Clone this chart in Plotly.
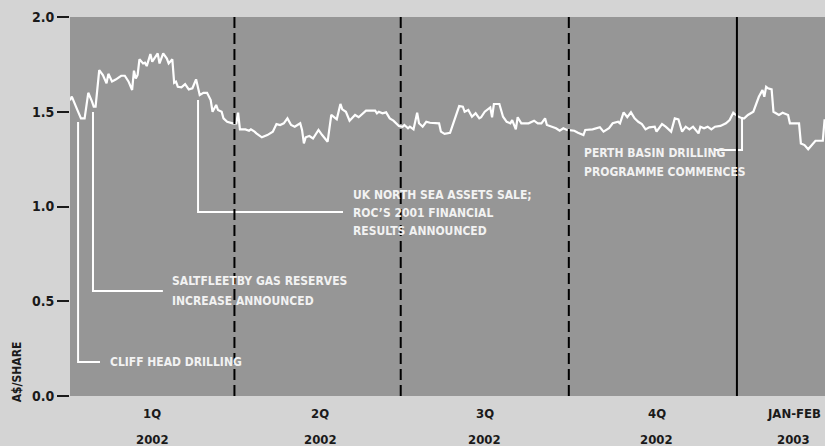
import plotly.graph_objects as go

# share price, A$ per share
dates = [
    "2002-01-01", "2002-01-02", "2002-01-05", "2002-01-07", "2002-01-09", "2002-01-11", "2002-01-13", "2002-01-14", "2002-01-15", "2002-01-17",
    "2002-01-19", "2002-01-21", "2002-01-22", "2002-01-24", "2002-01-26", "2002-01-29", "2002-01-31", "2002-02-02", "2002-02-04", "2002-02-05",
    "2002-02-06", "2002-02-07", "2002-02-08", "2002-02-10", "2002-02-11", "2002-02-12", "2002-02-14", "2002-02-15", "2002-02-17", "2002-02-18",
    "2002-02-19", "2002-02-21", "2002-02-23", "2002-02-24", "2002-02-26", "2002-02-27", "2002-02-28", "2002-03-01", "2002-03-03", "2002-03-05",
    "2002-03-07", "2002-03-09", "2002-03-11", "2002-03-12", "2002-03-13", "2002-03-15", "2002-03-17", "2002-03-19", "2002-03-20", "2002-03-22",
    "2002-03-23", "2002-03-25", "2002-03-26", "2002-03-28", "2002-03-31", "2002-04-02", "2002-04-03", "2002-04-04", "2002-04-07", "2002-04-09",
    "2002-04-10", "2002-04-12", "2002-04-13", "2002-04-16", "2002-04-19", "2002-04-22", "2002-04-24", "2002-04-26", "2002-04-28", "2002-04-30",
    "2002-05-02", "2002-05-04", "2002-05-07", "2002-05-08", "2002-05-09", "2002-05-10", "2002-05-12", "2002-05-14", "2002-05-15", "2002-05-17",
    "2002-05-19", "2002-05-22", "2002-05-24", "2002-05-27", "2002-05-29", "2002-05-30", "2002-06-01", "2002-06-03", "2002-06-06", "2002-06-08",
    "2002-06-12", "2002-06-17", "2002-06-18", "2002-06-19", "2002-06-21", "2002-06-23", "2002-06-25", "2002-06-27", "2002-06-30", "2002-07-02",
    "2002-07-03", "2002-07-05", "2002-07-06", "2002-07-08", "2002-07-10", "2002-07-11", "2002-07-13", "2002-07-15", "2002-07-17", "2002-07-22",
    "2002-07-23", "2002-07-25", "2002-07-28", "2002-07-30", "2002-08-02", "2002-08-04", "2002-08-05", "2002-08-07", "2002-08-09", "2002-08-11",
    "2002-08-13", "2002-08-14", "2002-08-16", "2002-08-19", "2002-08-20", "2002-08-21", "2002-08-24", "2002-08-26", "2002-08-28", "2002-08-30",
    "2002-08-31", "2002-09-02", "2002-09-03", "2002-09-05", "2002-09-09", "2002-09-12", "2002-09-14", "2002-09-16", "2002-09-18", "2002-09-19",
    "2002-09-22", "2002-09-24", "2002-09-26", "2002-09-28", "2002-09-30", "2002-10-04", "2002-10-06", "2002-10-09", "2002-10-10", "2002-10-14",
    "2002-10-18", "2002-10-20", "2002-10-23", "2002-10-25", "2002-10-28", "2002-10-29", "2002-10-31", "2002-11-02", "2002-11-04", "2002-11-06",
    "2002-11-08", "2002-11-10", "2002-11-12", "2002-11-14", "2002-11-17", "2002-11-18", "2002-11-21", "2002-11-23", "2002-11-26", "2002-11-28",
    "2002-11-30", "2002-12-02", "2002-12-04", "2002-12-06", "2002-12-08", "2002-12-11", "2002-12-12", "2002-12-14", "2002-12-16", "2002-12-18",
    "2002-12-20", "2002-12-23", "2002-12-26", "2002-12-28", "2002-12-30", "2003-01-01", "2003-01-04", "2003-01-05", "2003-01-07", "2003-01-10",
    "2003-01-13", "2003-01-15", "2003-01-16", "2003-01-17", "2003-01-18", "2003-01-20", "2003-01-21", "2003-01-24", "2003-01-26", "2003-01-29",
    "2003-01-30", "2003-02-04", "2003-02-05", "2003-02-07", "2003-02-09", "2003-02-11", "2003-02-13", "2003-02-17", "2003-02-18",
]
price = [
    1.56, 1.58, 1.51, 1.465, 1.465, 1.60, 1.555, 1.527, 1.527, 1.72,
    1.694, 1.65, 1.70, 1.66, 1.67, 1.69, 1.69, 1.66, 1.615, 1.717,
    1.676, 1.694, 1.777, 1.755, 1.759, 1.741, 1.805, 1.764, 1.794, 1.808,
    1.755, 1.808, 1.781, 1.755, 1.777, 1.653, 1.659, 1.632, 1.629, 1.646,
    1.618, 1.624, 1.671, 1.629, 1.588, 1.60, 1.60, 1.562, 1.50, 1.536,
    1.509, 1.50, 1.465, 1.447, 1.439, 1.439, 1.495, 1.407, 1.407, 1.40,
    1.407, 1.395, 1.386, 1.365, 1.377, 1.395, 1.435, 1.430, 1.439, 1.465,
    1.430, 1.421, 1.439, 1.404, 1.333, 1.365, 1.372, 1.359, 1.372, 1.404,
    1.377, 1.342, 1.483, 1.460, 1.541, 1.513, 1.50, 1.453, 1.483, 1.471,
    1.506, 1.506, 1.492, 1.50, 1.492, 1.497, 1.465, 1.453, 1.425, 1.421,
    1.430, 1.413, 1.421, 1.407, 1.495, 1.439, 1.421, 1.447, 1.442, 1.439,
    1.395, 1.383, 1.389, 1.442, 1.53, 1.527, 1.50, 1.509, 1.474, 1.492,
    1.465, 1.471, 1.50, 1.523, 1.471, 1.541, 1.541, 1.474, 1.447, 1.439,
    1.456, 1.407, 1.471, 1.439, 1.439, 1.453, 1.439, 1.439, 1.465, 1.430,
    1.421, 1.413, 1.40, 1.413, 1.404, 1.40, 1.389, 1.377, 1.404, 1.407,
    1.418, 1.395, 1.413, 1.439, 1.447, 1.439, 1.497, 1.471, 1.497, 1.465,
    1.447, 1.435, 1.407, 1.418, 1.421, 1.395, 1.435, 1.421, 1.395, 1.465,
    1.460, 1.395, 1.421, 1.407, 1.421, 1.386, 1.421, 1.413, 1.421, 1.407,
    1.421, 1.425, 1.439, 1.456, 1.495, 1.478, 1.465, 1.465, 1.483, 1.50,
    1.579, 1.615, 1.579, 1.632, 1.624, 1.618, 1.50, 1.483, 1.495, 1.483,
    1.439, 1.439, 1.333, 1.324, 1.302, 1.324, 1.347, 1.347, 1.46,
]

quarter_breaks = ["2002-04-01", "2002-07-01", "2002-10-01"]
year_break = "2003-01-01"

period_labels = ["1Q", "2Q", "3Q", "4Q", "JAN-FEB"]
period_years = ["2002", "2002", "2002", "2002", "2003"]
period_centres = ["2002-02-15", "2002-05-18", "2002-08-16", "2002-11-18", "2003-02-01"]

y_ticks = [0.0, 0.5, 1.0, 1.5, 2.0]

# callouts: leader (top point, elbow, end of horizontal), text lines
callouts = [
    {"x": "2002-01-05 10:00", "top": 1.446, "elbow": 0.179, "end": "2002-01-17 10:00",
     "tx": "2002-01-21 20:00", "lines": ["CLIFF HEAD DRILLING"], "ly": [0.179]},
    {"x": "2002-01-13 14:00", "top": 1.499, "elbow": 0.554, "end": "2002-02-20 20:00",
     "tx": "2002-02-24 16:00", "lines": ["SALTFLEETBY GAS RESERVES", "INCREASE ANNOUNCED"], "ly": [0.607, 0.501]},
    {"x": "2002-03-12 02:00", "top": 1.562, "elbow": 0.971, "end": "2002-05-30 10:00",
     "tx": "2002-06-03 20:00", "lines": ["UK NORTH SEA ASSETS SALE;", "ROC\u2019S 2001 FINANCIAL", "RESULTS ANNOUNCED"],
     "ly": [1.061, 0.966, 0.871]},
    {"x": "2003-01-03 19:00", "top": 1.472, "elbow": 1.298, "end": "2002-12-19 12:00",
     "tx": "2002-10-08 05:00", "lines": ["PERTH BASIN DRILLING", "PROGRAMME COMMENCES"], "ly": [1.282, 1.182]},
]

FONT = "DejaVu Sans Condensed, Liberation Sans Narrow, Arial Narrow, sans-serif"
TEXT_W = "#f2f2f2"
INK = "#1a1a1a"

fig = go.Figure()

for c in callouts:
    fig.add_trace(go.Scatter(x=[c["x"], c["x"], c["end"]], y=[c["top"], c["elbow"], c["elbow"]],
                             mode="lines", line=dict(color="white", width=2), hoverinfo="skip", showlegend=False))

fig.add_trace(go.Scatter(x=dates, y=price, mode="lines", line=dict(color="white", width=2.2),
                         showlegend=False, name="A$/share"))

for q in quarter_breaks:
    fig.add_shape(type="line", x0=q, x1=q, y0=0, y1=1, xref="x", yref="paper",
                  line=dict(color="black", width=2, dash="11px,5px"), layer="above")
fig.add_shape(type="line", x0=year_break, x1=year_break, y0=0, y1=1, xref="x", yref="paper",
              line=dict(color="black", width=2), layer="above")

for c in callouts:
    for txt, yy in zip(c["lines"], c["ly"]):
        fig.add_annotation(x=c["tx"], y=yy, text="<b>%s</b>" % txt, showarrow=False, xanchor="left", yanchor="middle",
                           font=dict(family=FONT, size=12, color=TEXT_W))

for lab, yr, xc in zip(period_labels, period_years, period_centres):
    fig.add_annotation(x=xc, y=-0.045, xref="x", yref="paper", text="<b>%s</b>" % lab, showarrow=False,
                       yanchor="middle", font=dict(family=FONT, size=13, color=INK))
    fig.add_annotation(x=xc, y=-0.116, xref="x", yref="paper", text="<b>%s</b>" % yr, showarrow=False,
                       yanchor="middle", font=dict(family=FONT, size=13, color=INK))

fig.add_annotation(x=-0.07, y=0.063, xref="paper", yref="paper", text="<b>A$/SHARE</b>", showarrow=False,
                   textangle=-90, xanchor="center", yanchor="middle",
                   font=dict(family=FONT, size=12, color=INK))

fig.update_layout(
    width=825, height=446,
    margin=dict(l=70, r=0, t=17, b=50),
    paper_bgcolor="#d4d4d4", plot_bgcolor="#969696",
    font=dict(family=FONT, size=13, color=INK),
    showlegend=False,
)
fig.update_xaxes(type="date", range=["2002-01-01", "2003-02-18 05:00"], showticklabels=False,
                 showgrid=False, zeroline=False, showline=False, ticks="")
fig.update_yaxes(range=[0, 2], tickvals=y_ticks, ticktext=["<b>%.1f</b>" % v for v in y_ticks],
                 ticks="outside", ticklen=12, tickwidth=2, tickcolor=INK,
                 showgrid=False, zeroline=False, showline=False,
                 tickfont=dict(family=FONT, size=14, color=INK))

fig.write_html("out.html", config={"displayModeBar": False},
               post_script="document.body.style.margin='0';")
